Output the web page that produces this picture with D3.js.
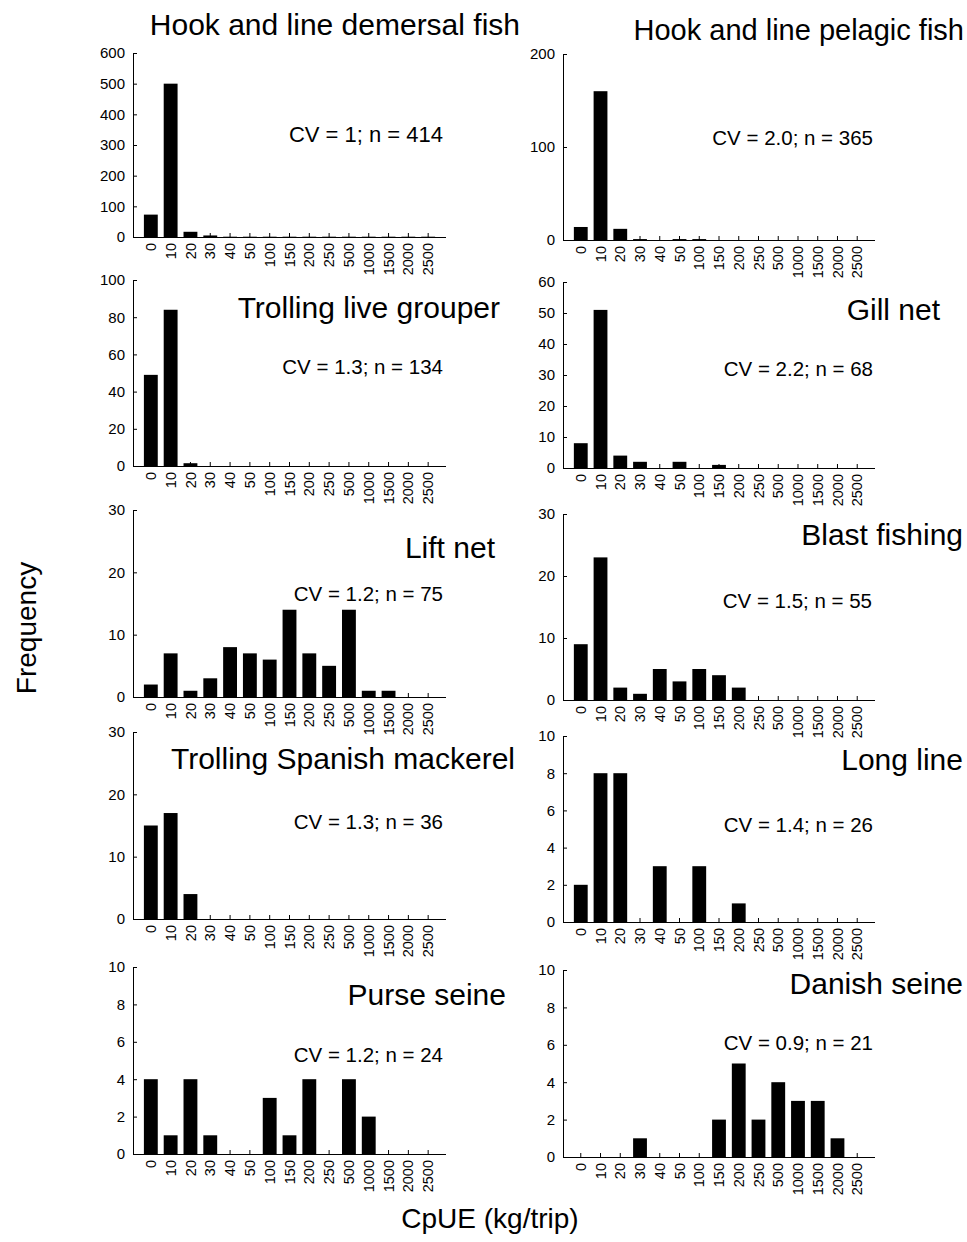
<!DOCTYPE html>
<html>
<head>
<meta charset="utf-8">
<script src="https://cdn.jsdelivr.net/npm/d3@7"></script>
<style>
  body { margin: 0; background: #fff; }
  svg text { font-family: "Liberation Sans", Arial, sans-serif; fill: #000; }
</style>
</head>
<body>
<div id="container"></div>
<script>
// CpUE classes (kg/trip) shared by all panels
const categories = ["0", "10", "20", "30", "40", "50", "100", "150", "200", "250", "500", "1000", "1500", "2000", "2500"];

const titles = [
  "Hook and line demersal fish", "Hook and line pelagic fish",
  "Trolling live grouper", "Gill net",
  "Lift net", "Blast fishing",
  "Trolling Spanish mackerel", "Long line",
  "Purse seine", "Danish seine"
];

const statLabels = [
  "CV = 1; n = 414", "CV = 2.0; n = 365",
  "CV = 1.3; n = 134", "CV = 2.2; n = 68",
  "CV = 1.2; n = 75", "CV = 1.5; n = 55",
  "CV = 1.3; n = 36", "CV = 1.4; n = 26",
  "CV = 1.2; n = 24", "CV = 0.9; n = 21"
];

// frequencies per panel, same order as categories
const demersal   = [73, 500, 17, 5, 1, 1, 1, 1, 1, 1, 1, 1, 1, 1, 1];
const pelagic    = [14, 160, 12, 1, 0, 1, 1, 0, 0, 0, 0, 0, 0, 0, 0];
const grouper    = [49, 84, 1.5, 0, 0, 0, 0, 0, 0, 0, 0, 0, 0, 0, 0];
const gillNet    = [8, 51, 4, 2, 0, 2, 0, 1, 0, 0, 0, 0, 0, 0, 0];
const liftNet    = [2, 7, 1, 3, 8, 7, 6, 14, 7, 5, 14, 1, 1, 0, 0];
const blast      = [9, 23, 2, 1, 5, 3, 5, 4, 2, 0, 0, 0, 0, 0, 0];
const mackerel   = [15, 17, 4, 0, 0, 0, 0, 0, 0, 0, 0, 0, 0, 0, 0];
const longLine   = [2, 8, 8, 0, 3, 0, 3, 0, 1, 0, 0, 0, 0, 0, 0];
const purseSeine = [4, 1, 4, 1, 0, 0, 3, 1, 4, 0, 4, 2, 0, 0, 0];
const danish     = [0, 0, 0, 1, 0, 0, 0, 2, 5, 2, 4, 3, 3, 1, 0];

const series = [demersal, pelagic, grouper, gillNet, liftNet, blast, mackerel, longLine, purseSeine, danish];

// y axis maximum and tick step per panel
const yMax  = [600, 200, 100, 60, 30, 30, 30, 10, 10, 10];
const yStep = [100, 100, 20, 10, 10, 10, 10, 2, 2, 2];

// layout: plot frame and label placement per panel
const colX = [[133, 446], [563, 875]];
const frames = [
  [53, 237], [54, 240],
  [280, 466], [282, 468],
  [510, 697], [514, 700],
  [732, 919], [736, 922],
  [967, 1154], [970, 1157]
];
const titlePos = [
  [520, 35], [964, 40],
  [500, 318], [940, 320],
  [495, 558], [963, 545],
  [515, 769], [963, 770],
  [506, 1005], [963, 994]
];
const titleSize = [30, 29, 30, 30, 30, 30, 30, 30, 30, 30];
const statPos = [
  [443, 142], [873, 145],
  [443, 374], [873, 376],
  [443, 601], [872, 608],
  [443, 829], [873, 832],
  [443, 1062], [873, 1050]
];
const statSize = [22, 20.5, 20.5, 20.5, 20.5, 20.5, 20.5, 20.5, 20.5, 20.5];

const W = 967, H = 1242;
const svg = d3.select("#container").append("svg")
  .attr("width", W)
  .attr("height", H);

series.forEach(function(values, i) {
  const [x0, x1] = colX[i % 2];
  const [top, bottom] = frames[i];

  const x = d3.scaleBand()
    .domain(categories)
    .range([x0, x1])
    .paddingInner(0.3)
    .paddingOuter(0.55);

  const y = d3.scaleLinear()
    .domain([0, yMax[i]])
    .range([bottom, top]);

  const g = svg.append("g").attr("class", "panel");

  g.selectAll("rect")
    .data(values)
    .enter()
    .append("rect")
    .attr("x", (d, j) => x(categories[j]))
    .attr("y", d => y(d))
    .attr("width", x.bandwidth())
    .attr("height", d => bottom - y(d))
    .attr("fill", "#000");

  const yAxis = d3.axisLeft(y)
    .tickValues(d3.range(0, yMax[i] + yStep[i] / 2, yStep[i]))
    .tickSizeInner(-4)
    .tickSizeOuter(0)
    .tickPadding(8);

  const gy = g.append("g")
    .attr("transform", `translate(${x0},0)`)
    .call(yAxis);
  gy.selectAll("text").style("font-size", "15px");

  const xAxis = d3.axisBottom(x)
    .tickSizeInner(-4)
    .tickSizeOuter(0)
    .tickPadding(0);

  const gx = g.append("g")
    .attr("transform", `translate(0,${bottom})`)
    .call(xAxis);
  gx.select(".domain").attr("d", `M${x0},0.5H${x1}`);
  gx.selectAll("text")
    .style("font-size", "14.5px")
    .attr("transform", "rotate(-90)")
    .attr("text-anchor", "end")
    .attr("x", -6)
    .attr("y", 0)
    .attr("dy", "0.35em");

  g.selectAll(".domain, .tick line").attr("stroke", "#000");

  g.append("text")
    .attr("x", titlePos[i][0])
    .attr("y", titlePos[i][1])
    .attr("text-anchor", "end")
    .style("font-size", titleSize[i] + "px")
    .text(titles[i]);

  g.append("text")
    .attr("x", statPos[i][0])
    .attr("y", statPos[i][1])
    .attr("text-anchor", "end")
    .style("font-size", statSize[i] + "px")
    .text(statLabels[i]);
});

svg.append("text")
  .attr("transform", "translate(36,628) rotate(-90)")
  .attr("text-anchor", "middle")
  .style("font-size", "28px")
  .text("Frequency");

svg.append("text")
  .attr("x", 490)
  .attr("y", 1228)
  .attr("text-anchor", "middle")
  .style("font-size", "28px")
  .text("CpUE (kg/trip)");
</script>
</body>
</html>
